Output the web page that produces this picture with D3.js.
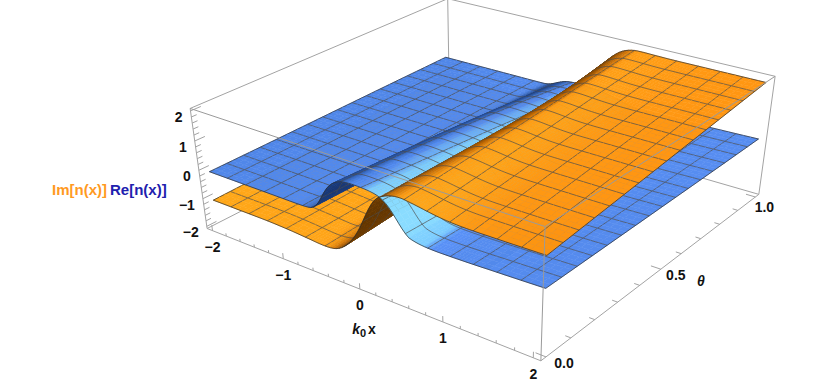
<!DOCTYPE html>
<html>
<head>
<meta charset="utf-8">
<script src="https://cdn.jsdelivr.net/npm/d3@7"></script>
<style>
    body { margin: 0; background: #fff; }
    text { font-family: "Liberation Sans", Arial, sans-serif; font-weight: 700; fill: #111; }
</style>
</head>
<body>
<div id="chart"></div>
<script>
// sample positions of the two surfaces
const xKnots = [-1.97, -1.5, -1.2, -1, -0.8, -0.6, -0.5, -0.4, -0.3, -0.2, -0.1, 0, 0.1, 0.2, 0.3, 0.4, 0.5, 0.6, 0.8, 1, 1.2, 1.5, 2.08];
const thetaKnots = [-0.01, 0.235, 0.48, 0.725, 0.97];

// Re[n(x)], one row per theta knot
const reTheta0   = [0, 0, 0, 0, 0, 0, 0.2, 0.8, 1.12, 1.26, 1.3, 1.3, 1.29, 1.26, 1.18, 0.92, 0.5, 0.17, 0.09, 0.09, 0.1, 0.12, 0.18];
const reTheta25  = [0.02, 0.02, 0.02, 0.02, 0.02, 0.02, 0.14, 0.68, 1.0, 1.1, 1.12, 1.1, 1.08, 1.05, 0.97, 0.76, 0.42, 0.14, 0.08, 0.08, 0.09, 0.11, 0.17];
const reTheta50  = [0.05, 0.05, 0.05, 0.05, 0.05, 0.05, 0.12, 0.58, 0.86, 0.93, 0.93, 0.91, 0.89, 0.85, 0.76, 0.6, 0.34, 0.12, 0.07, 0.07, 0.08, 0.1, 0.16];
const reTheta75  = [0.08, 0.08, 0.08, 0.08, 0.08, 0.08, 0.11, 0.42, 0.65, 0.71, 0.71, 0.69, 0.67, 0.63, 0.55, 0.42, 0.25, 0.1, 0.07, 0.07, 0.08, 0.11, 0.15];
const reTheta100 = [0.1, 0.1, 0.1, 0.1, 0.1, 0.1, 0.11, 0.25, 0.38, 0.42, 0.42, 0.4, 0.38, 0.35, 0.3, 0.23, 0.14, 0.08, 0.06, 0.06, 0.07, 0.1, 0.15];

// Im[n(x)], one row per theta knot
const imTheta0   = [-1, -1, -1, -1.02, -1.05, -1.1, -1.12, -1.12, -1.08, -0.9, -0.6, -0.15, 0.5, 1.05, 1.25, 1.36, 1.4, 1.38, 1.27, 1.18, 1.15, 1.15, 1.18];
const imTheta25  = [-0.95, -0.95, -0.95, -0.97, -1, -1.05, -1.05, -1, -0.92, -0.75, -0.45, -0.05, 0.45, 0.95, 1.28, 1.46, 1.55, 1.56, 1.47, 1.41, 1.4, 1.4, 1.4];
const imTheta50  = [-0.85, -0.85, -0.85, -0.87, -0.9, -0.92, -0.9, -0.85, -0.72, -0.55, -0.3, 0, 0.4, 0.85, 1.25, 1.52, 1.68, 1.74, 1.67, 1.62, 1.62, 1.62, 1.62];
const imTheta75  = [-0.7, -0.7, -0.7, -0.72, -0.75, -0.75, -0.7, -0.64, -0.5, -0.3, -0.05, 0.25, 0.6, 1.0, 1.35, 1.65, 1.85, 1.95, 1.9, 1.86, 1.85, 1.85, 1.85];
const imTheta100 = [-0.55, -0.55, -0.55, -0.56, -0.58, -0.55, -0.5, -0.4, -0.2, 0.02, 0.3, 0.6, 1.0, 1.4, 1.72, 1.95, 2.06, 2.1, 2.08, 2.07, 2.07, 2.07, 2.07];

const reRows = [reTheta0, reTheta25, reTheta50, reTheta75, reTheta100];
const imRows = [imTheta0, imTheta25, imTheta50, imTheta75, imTheta100];

const xTickLabels = [-2, -1, 0, 1, 2];
const thetaTickLabels = [0, 0.5, 1];
const zTickLabels = [-2, -1, 0, 1, 2];

const width = 830, height = 382;
const meshCells = 16;

// box of the plot in data units
const xBox = [-2.08, 2.08], thetaBox = [-0.02, 1.02], zBox = [-2.08, 2.08];

const xUnit = d3.scaleLinear().domain(xBox).range([0, 1]);
const thetaUnit = d3.scaleLinear().domain(thetaBox).range([0, 1]);
const zUnit = d3.scaleLinear().domain(zBox).range([0, 1]);

// known box spots on the picture: x, theta, z, pixel x, pixel y
const tiePoints = [
    [xBox[0], thetaBox[0], zBox[0], 207, 229.5],
    [xBox[1], thetaBox[0], zBox[0], 541.7, 360],
    [xBox[1], thetaBox[1], zBox[0], 759, 193],
    [xBox[0], thetaBox[0], zBox[1], 190, 108],
    [xBox[1], thetaBox[0], zBox[1], 545, 227],
    [xBox[1], thetaBox[1], zBox[1], 775, 76],
    [xBox[0], thetaBox[1], zBox[1], 448, -1],
    [0, thetaBox[0], zBox[0], 360, 288],
    [1, thetaBox[0], zBox[0], 443, 322],
    [-1, thetaBox[0], zBox[0], 283, 258],
    [xBox[1], 0.5, zBox[0], 660, 272]
];

// perspective camera, least squares fit on the tie points
function fitCamera(points) {
    let rows = [], rhs = [];
    points.forEach(p => {
        let u = xUnit(p[0]), v = thetaUnit(p[1]), w = zUnit(p[2]), px = p[3] / 1000, py = p[4] / 1000;
        rows.push([u, v, w, 1, 0, 0, 0, 0, -px * u, -px * v, -px * w]); rhs.push(px);
        rows.push([0, 0, 0, 0, u, v, w, 1, -py * u, -py * v, -py * w]); rhs.push(py);
    });
    let n = 11;
    let m = d3.range(n).map(i => d3.range(n + 1).map(j =>
        d3.sum(rows, (r, k) => r[i] * (j < n ? r[j] : rhs[k]))));
    for (let i = 0; i < n; i++) {
        let pivot = i;
        for (let k = i + 1; k < n; k++) if (Math.abs(m[k][i]) > Math.abs(m[pivot][i])) pivot = k;
        [m[i], m[pivot]] = [m[pivot], m[i]];
        for (let k = 0; k < n; k++) {
            if (k === i) continue;
            let f = m[k][i] / m[i][i];
            for (let j = i; j <= n; j++) m[k][j] -= f * m[i][j];
        }
    }
    return m.map((r, i) => r[n] / r[i]);
}
const cam = fitCamera(tiePoints);

function project(x, t, z) {
    let u = xUnit(x), v = thetaUnit(t), w = zUnit(z);
    let d = cam[8] * u + cam[9] * v + cam[10] * w + 1;
    return {
        x: 1000 * (cam[0] * u + cam[1] * v + cam[2] * w + cam[3]) / d,
        y: 1000 * (cam[4] * u + cam[5] * v + cam[6] * w + cam[7]) / d,
        depth: d
    };
}

// smooth lookup in a value table
function surfaceLookup(rows) {
    let xIndex = d3.scaleLinear().domain(xKnots).range(xKnots.map((d, i) => i / (xKnots.length - 1)));
    let rowFns = rows.map(r => d3.interpolateBasis(r));
    let tIndex = d3.scaleLinear().domain(thetaKnots).range(thetaKnots.map((d, i) => i / (thetaKnots.length - 1)));
    return (x, t) => d3.interpolateBasis(rowFns.map(f => f(xIndex(x))))(tIndex(t));
}

const svg = d3.select("#chart").append("svg")
    .attr("width", width)
    .attr("height", height)
    .style("display", "block");

const boxColor = "#a3a3a3";

function edge(parent, a, b, color, w) {
    let p = project(...a), q = project(...b);
    parent.append("line")
        .attr("x1", p.x).attr("y1", p.y)
        .attr("x2", q.x).attr("y2", q.y)
        .attr("stroke", color || boxColor)
        .attr("stroke-width", w || 1);
}

// box edges behind the surfaces
const back = svg.append("g");
const [x0, x1] = xBox, [t0, t1] = thetaBox, [z0, z1] = zBox;
[
    [[x0, t0, z0], [x1, t0, z0]], [[x1, t0, z0], [x1, t1, z0]],
    [[x1, t1, z0], [x0, t1, z0]], [[x0, t1, z0], [x0, t0, z0]],
    [[x0, t0, z0], [x0, t0, z1]], [[x1, t1, z0], [x1, t1, z1]],
    [[x0, t1, z0], [x0, t1, z1]],
    [[x0, t0, z1], [x0, t1, z1]], [[x0, t1, z1], [x1, t1, z1]]
].forEach(e => edge(back, e[0], e[1]));

// ticks: x ticks stand up, theta ticks lean towards -x, z ticks lean along theta
d3.range(-2, 2.01, 0.2).forEach(v => {
    let major = Math.abs(v - Math.round(v)) < 1e-6;
    edge(back, [v, t0, z0], [v, t0, z0 + (major ? 0.2 : 0.1)]);
    edge(back, [x0, t0, v], [x0, t0 + (major ? 0.035 : 0.018), v]);
});
d3.range(0, 1.01, 0.1).forEach(v => {
    let major = Math.round(v * 10) % 5 === 0;
    edge(back, [x1, v, z0], [x1 - (major ? 0.11 : 0.06), v, z0]);
});

// shading: surfaces facing +x are lit, facing -x are dark; flat parts drift with x
const reBase = d3.scaleLinear().domain([-2, 2]).range(["#4f86e8", "#5c94fb"]);
const imBase = d3.scaleLinear().domain([-2, 2]).range(["#ffa818", "#ff9612"]);
const reColor = (shade, x) => d3.scaleLinear()
    .domain([-0.9, -0.35, 0, 0.05, 0.16, 0.9])
    .range(["#1b3a78", "#2f5cab", reBase(x), reBase(x), "#7ccdff", "#8adcff"])(shade);
const imColor = (shade, x) => d3.scaleLinear()
    .domain([-0.9, -0.45, 0, 0.45, 0.9])
    .range(["#6d3c02", "#c76e06", imBase(x), "#ffac1c", "#ffb428"])(shade);

const xRange = [xKnots[0], xKnots[xKnots.length - 1]];
const tRange = [thetaKnots[0], thetaKnots[thetaKnots.length - 1]];
const meshX = d3.range(meshCells + 1).map(i => xRange[0] + (xRange[1] - xRange[0]) * i / meshCells);
const meshT = d3.range(meshCells + 1).map(i => tRange[0] + (tRange[1] - tRange[0]) * i / meshCells);

// fine sample grid, denser where the surfaces bend
let gridX = [], gridXMesh = [];
meshX.slice(0, -1).forEach((v, i) => {
    let steep = v > -0.9 && v < 1.1;
    let sub = steep ? 7 : 3;
    d3.range(sub).forEach(k => {
        gridXMesh.push(k === 0 ? i : -1);
        gridX.push(v + (meshX[i + 1] - v) * k / sub);
    });
});
gridX.push(xRange[1]); gridXMesh.push(meshCells);
let gridT = [], gridTMesh = [];
meshT.slice(0, -1).forEach((v, i) => {
    d3.range(3).forEach(k => {
        gridTMesh.push(k === 0 ? i : -1);
        gridT.push(v + (meshT[i + 1] - v) * k / 3);
    });
});
gridT.push(tRange[1]); gridTMesh.push(meshCells);

let items = [];

function addSurface(rows, color) {
    let z = surfaceLookup(rows);
    let pts = gridT.map(t => gridX.map(x => project(x, t, z(x, t))));
    let hx = 0.01;
    for (let j = 0; j < gridT.length; j++) {
        for (let i = 0; i < gridX.length; i++) {
            // mesh lines along x and along theta
            if (i < gridX.length - 1 && gridTMesh[j] >= 0) addMesh(pts[j][i], pts[j][i + 1], gridTMesh[j]);
            if (j < gridT.length - 1 && gridXMesh[i] >= 0) addMesh(pts[j][i], pts[j + 1][i], gridXMesh[i]);
            if (i === gridX.length - 1 || j === gridT.length - 1) continue;
            let a = pts[j][i], b = pts[j][i + 1], c = pts[j + 1][i + 1], d = pts[j + 1][i];
            let xm = (gridX[i] + gridX[i + 1]) / 2, tm = (gridT[j] + gridT[j + 1]) / 2;
            let xa = Math.max(xm - hx, xRange[0]), xb = Math.min(xm + hx, xRange[1]);
            let s = (z(xb, tm) - z(xa, tm)) / (xb - xa) * 0.55;
            let shade = -s / Math.sqrt(1 + s * s);
            let fill = color(shade, xm);
            items.push({
                d: "M" + [a, b, c, d].map(p => p.x.toFixed(2) + "," + p.y.toFixed(2)).join("L") + "Z",
                fill: fill, stroke: fill, sw: 0.5,
                depth: (a.depth + b.depth + c.depth + d.depth) / 4
            });
        }
    }
}

function addMesh(a, b, index) {
    let edgeLine = index === 0 || index === meshCells;
    items.push({
        d: "M" + a.x.toFixed(2) + "," + a.y.toFixed(2) + "L" + b.x.toFixed(2) + "," + b.y.toFixed(2),
        fill: "none", stroke: edgeLine ? "#2b2b2b" : "#4a4a4a", sw: edgeLine ? 0.9 : 0.85,
        depth: (a.depth + b.depth) / 2 - 0.004
    });
}

addSurface(reRows, reColor);
addSurface(imRows, imColor);
items.sort((a, b) => b.depth - a.depth);

svg.append("g")
    .selectAll("path")
    .data(items)
    .join("path")
    .attr("d", d => d.d)
    .attr("fill", d => d.fill)
    .attr("stroke", d => d.stroke)
    .attr("stroke-width", d => d.sw)
    .attr("stroke-opacity", d => d.fill === "none" ? 0.8 : 1);

// box edges in front of the surfaces
const front = svg.append("g");
edge(front, [x0, t0, z1], [x1, t0, z1], "#9a9a9a");
edge(front, [x1, t0, z1], [x1, t1, z1], "#9a9a9a");
edge(front, [x1, t0, z1], [x1, t0, z0], "#9a9a9a");

// tick labels
const labels = svg.append("g").attr("font-size", 14).attr("text-anchor", "middle");
function minus(v, digits) {
    return (v < 0 ? "\u2212" : "") + Math.abs(v).toFixed(digits);
}
xTickLabels.forEach(v => {
    let p = project(v, t0, z0);
    labels.append("text").attr("x", p.x).attr("y", p.y + 21).text(minus(v, 0));
});
zTickLabels.forEach(v => {
    let p = project(x0, t0, v);
    labels.append("text").attr("x", p.x - 8).attr("y", p.y + 11).attr("text-anchor", "end").text(minus(v, 0));
});
const thetaLabelShift = [[18, 11], [15, 11], [9, 15]];
thetaTickLabels.forEach((v, i) => {
    let p = project(x1, v, z0);
    labels.append("text").attr("x", p.x + thetaLabelShift[i][0]).attr("y", p.y + thetaLabelShift[i][1]).text(minus(v, 1));
});

// axis titles and legend
const kx = labels.append("text").attr("x", 364).attr("y", 334);
kx.append("tspan").attr("font-style", "italic").text("k");
kx.append("tspan").attr("font-size", 11).attr("dy", 3).text("0");
kx.append("tspan").attr("dy", -3).attr("dx", 2).text("x");
labels.append("text").attr("x", 701).attr("y", 286).attr("font-style", "italic").text("\u03b8");

svg.append("text").attr("x", 52).attr("y", 195).attr("font-size", 15).style("fill", "#ff9a1f").text("Im[n(x)]");
svg.append("text").attr("x", 110).attr("y", 195).attr("font-size", 15).style("fill", "#2020ae").text("Re[n(x)]");
</script>
</body>
</html>
